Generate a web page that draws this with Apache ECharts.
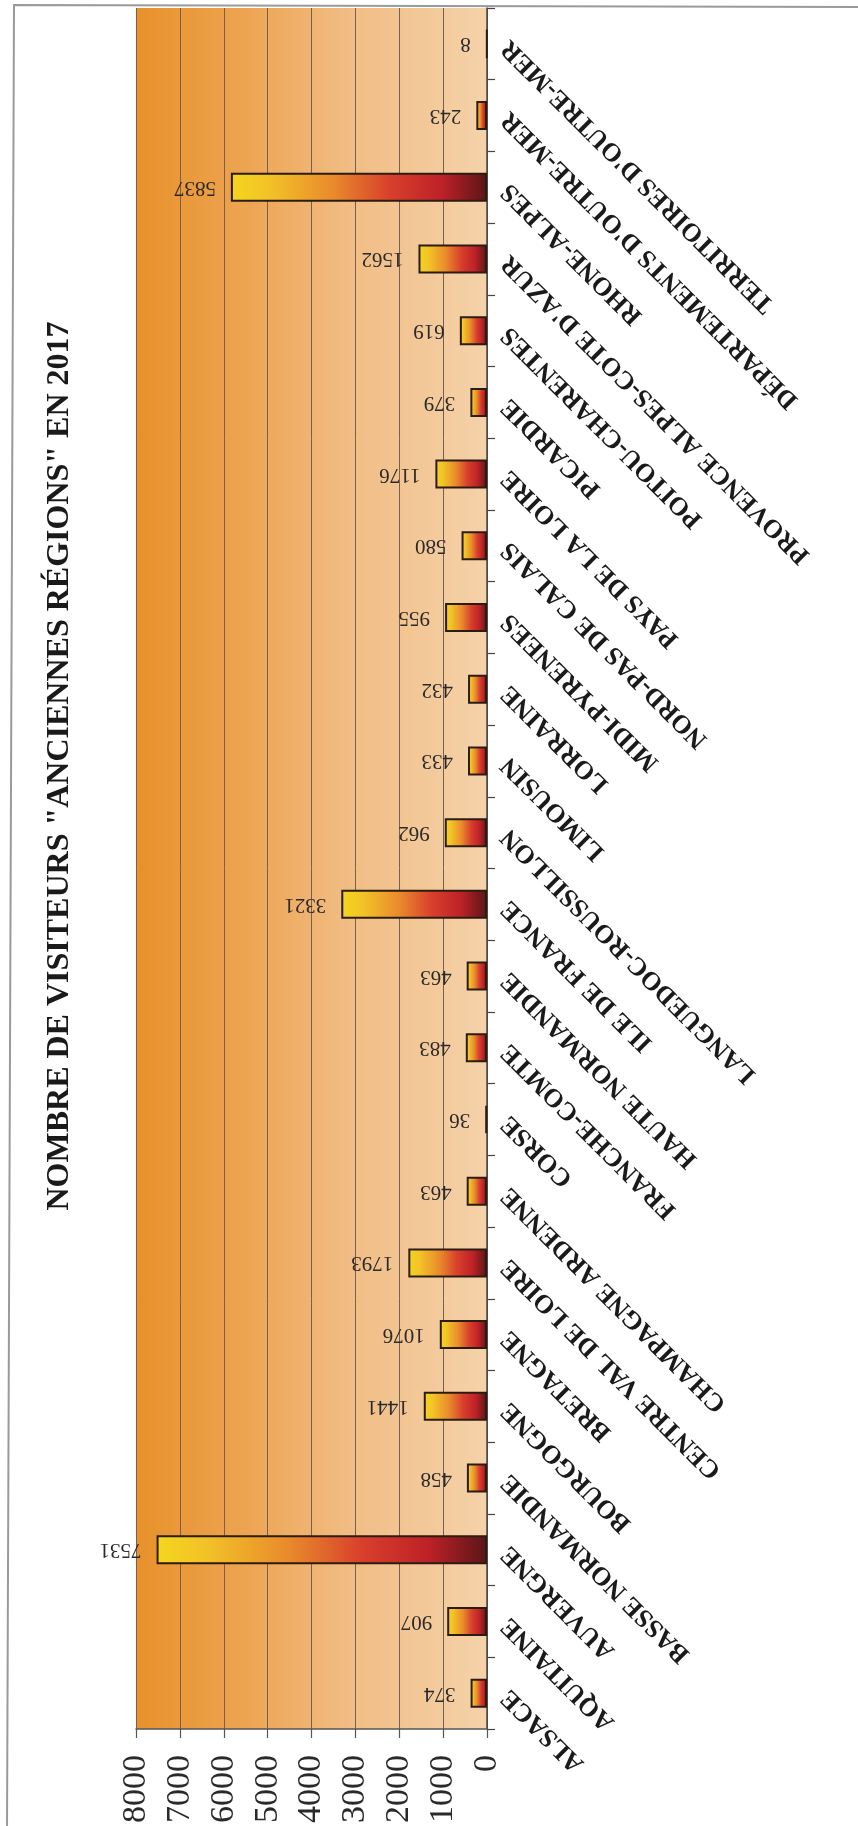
<!DOCTYPE html>
<html>
<head>
<meta charset="utf-8">
<script src="https://cdn.jsdelivr.net/npm/echarts@6/dist/echarts.min.js"></script>
<style>
  html, body { margin: 0; padding: 0; background: #fff; }
  #chart { width: 858px; height: 1826px; }
</style>
</head>
<body>
<div id="chart"></div>
<script>
  // anciennes régions, de bas en haut
  const regions = [
    'ALSACE', 'AQUITAINE', 'AUVERGNE', 'BASSE NORMANDIE', 'BOURGOGNE', 'BRETAGNE',
    'CENTRE VAL DE LOIRE', 'CHAMPAGNE ARDENNE', 'CORSE', 'FRANCHE-COMTE', 'HAUTE NORMANDIE',
    'ILE DE FRANCE', 'LANGUEDOC-ROUSSILLON', 'LIMOUSIN', 'LORRAINE', 'MIDI-PYRENEES',
    'NORD-PAS DE CALAIS', 'PAYS DE LA LOIRE', 'PICARDIE', 'POITOU-CHARENTES',
    "PROVENCE ALPES-COTE D'AZUR", 'RHONE-ALPES', "DÉPARTEMENTS D'OUTRE-MER", "TERRITOIRES D'OUTRE-MER"
  ];
  const visiteurs = [
    374, 907, 7531, 458, 1441, 1076,
    1793, 463, 36, 483, 463,
    3321, 962, 433, 432, 955,
    580, 1176, 379, 619,
    1562, 5837, 243, 8
  ];
  const valueTicks = { min: 0, max: 8000, interval: 1000 };
  const titre = 'NOMBRE DE VISITEURS "ANCIENNES RÉGIONS" EN 2017';

  const SERIF = '"Liberation Serif", "Times New Roman", serif';

  const chart = echarts.init(document.getElementById('chart'));

  const barFill = new echarts.graphic.LinearGradient(0, 0, 1, 0, [
    { offset: 0,    color: '#F5D61E' },
    { offset: 0.15, color: '#F2C227' },
    { offset: 0.4,  color: '#E98A2C' },
    { offset: 0.62, color: '#D8402C' },
    { offset: 0.82, color: '#BE2227' },
    { offset: 1,    color: '#5A1518' }
  ]);

  chart.setOption({
    animation: false,
    backgroundColor: '#fff',
    grid: {
      left: 136, right: 371, top: 8, bottom: 90,
      show: true,
      borderWidth: 0,
      backgroundColor: new echarts.graphic.LinearGradient(0, 0, 1, 0, [
        { offset: 0,   color: '#E8912B' },
        { offset: 0.3, color: '#EDA34F' },
        { offset: 0.6, color: '#F1BC83' },
        { offset: 1,   color: '#F5D2AA' }
      ])
    },
    xAxis: {
      type: 'value',
      inverse: true,
      min: valueTicks.min,
      max: valueTicks.max,
      interval: valueTicks.interval,
      axisLine: { show: true, lineStyle: { color: '#555', width: 1.5 } },
      axisTick: { show: true, length: 9, lineStyle: { color: '#555', width: 1.2 } },
      splitLine: { show: true, lineStyle: { color: '#76604f', width: 1 } },
      axisLabel: {
        rotate: 90,
        margin: 26,
        formatter: v => String(v),
        fontFamily: SERIF,
        fontSize: 34,
        color: '#2a2a2a'
      }
    },
    yAxis: {
      type: 'category',
      position: 'right',
      data: regions,
      axisLine: { show: true, lineStyle: { color: '#444', width: 1.5 } },
      axisTick: { show: true, length: 8, lineStyle: { color: '#444', width: 1.2 } },
      axisLabel: { show: false }
    },
    series: [
      {
        type: 'bar',
        data: visiteurs,
        barWidth: 29,
        itemStyle: {
          color: barFill,
          borderColor: '#2b1c12',
          borderWidth: 2
        },
        label: {
          show: true,
          position: 'left',
          distance: 15,
          rotate: 180,
          align: 'left',
          verticalAlign: 'middle',
          fontFamily: SERIF,
          fontSize: 21,
          color: '#2a2a2a'
        }
      },
      {
        // libellés de catégorie, tournés tête en bas comme sur le scan
        type: 'scatter',
        silent: true,
        clip: false,
        symbolSize: 1,
        itemStyle: { color: 'rgba(0,0,0,0)' },
        data: regions.map(r => [0, r]),
        label: {
          show: true,
          opacity: 1,
          position: 'right',
          distance: 18,
          rotate: 135,
          align: 'right',
          verticalAlign: 'middle',
          formatter: p => p.value[1],
          fontFamily: SERIF,
          fontWeight: 'bold',
          fontSize: 26,
          color: '#1a1a1a'
        },
        labelLayout: { hideOverlap: false }
      }
    ],
    graphic: [
      {
        type: 'text',
        x: 60, y: 766,
        rotation: Math.PI / 2,
        style: {
          text: titre,
          fontFamily: SERIF,
          fontWeight: 'bold',
          fontSize: 32,
          fill: '#1a1a1a',
          align: 'center',
          verticalAlign: 'middle'
        }
      },
      {
        type: 'polyline',
        shape: { points: [[858, 7], [14, 5], [7, 1826]] },
        style: { stroke: '#9a9a9a', lineWidth: 2, fill: null }
      }
    ]
  });
</script>
</body>
</html>
